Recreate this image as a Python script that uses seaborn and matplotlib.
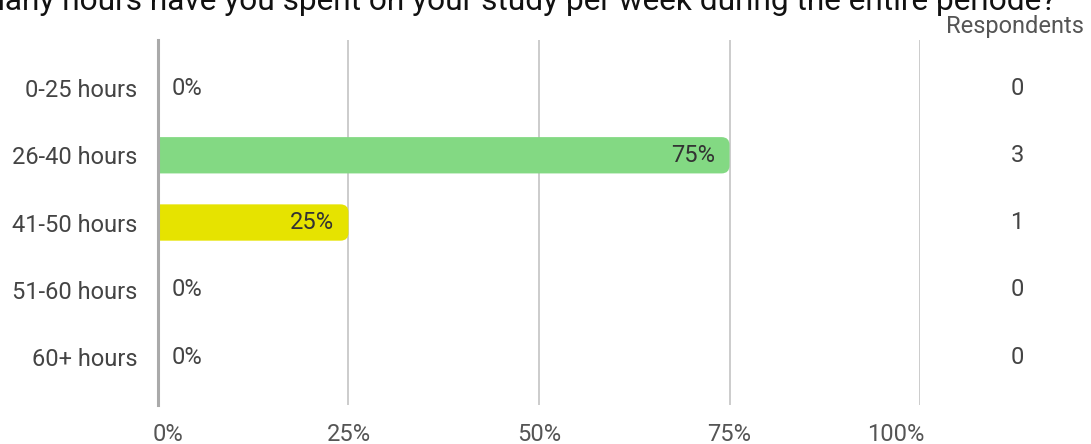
import matplotlib
matplotlib.use("Agg")
import matplotlib.pyplot as plt
from matplotlib.patches import FancyBboxPatch
from matplotlib.transforms import ScaledTranslation
import pandas as pd
import seaborn as sns

# Datos de la encuesta
categories = ["0-25 hours", "26-40 hours", "41-50 hours", "51-60 hours", "60+ hours"]
percentages = [0, 75, 25, 0, 0]
respondents = [0, 3, 1, 0, 0]
bar_colors = ["#cccccc", "#83d983", "#e6e300", "#cccccc", "#cccccc"]
x_ticks = [0, 25, 50, 75, 100]
x_tick_labels = ["0%", "25%", "50%", "75%", "100%"]
title_text = "How many hours have you spent on your study per week during the entire periode?"

sns.set_theme(style="white")
plt.rcParams["font.family"] = ["Roboto", "DejaVu Sans"]

df = pd.DataFrame({"category": categories, "pct": percentages, "n": respondents})

fig = plt.figure(figsize=(10.91, 4.44), dpi=100)
ax = fig.add_axes([0.1448, 0.0878, 0.6985, 0.8221])

sns.barplot(data=df, x="pct", y="category", hue="category", palette=bar_colors,
            legend=False, width=0.54, saturation=1, ax=ax, orient="h")

ax.set_xlim(0, 100)
ax.set_ylim(len(categories) - 0.286, -0.714)

# Barras con esquinas redondeadas (se reemplazan los rectangulos de seaborn)
px_x = ax.get_window_extent().width / 100.0
px_y = ax.get_window_extent().height / (len(categories) + 0.428)
aspect = px_x / px_y
for patch in list(ax.patches):
    x0, y0 = patch.get_x(), patch.get_y()
    w, h = patch.get_width(), patch.get_height()
    patch.set_visible(False)
    if w <= 0:
        continue
    r = 8.0 / px_x
    rounded = FancyBboxPatch((x0 - 3, y0), w + 3, h,
                             boxstyle=f"round,pad=0,rounding_size={r}",
                             mutation_aspect=aspect,
                             facecolor=patch.get_facecolor(), edgecolor="none",
                             zorder=2)
    ax.add_patch(rounded)

# Etiquetas de porcentaje
for i, pct in enumerate(percentages):
    if pct > 0:
        ax.text(pct - 14 / px_x, i, f"{pct}%", ha="right", va="center",
                fontsize=17, color="#333333", zorder=3)
    else:
        ax.text(14 / px_x, i, f"{pct}%", ha="left", va="center",
                fontsize=17, color="#444444", zorder=3)

# Columna de respondentes
for i, n in enumerate(respondents):
    y_fig = ax.transData.transform((0, i))[1] / fig.bbox.height
    fig.text(1017 / 1091, y_fig, str(n), ha="center", va="center",
             fontsize=17, color="#444444")
fig.text(1084 / 1091, 1 - 27 / 444, "Respondents", ha="right", va="center",
         fontsize=17, color="#555555")

# Titulo (recortado en el borde superior como en la original)
fig.text(1056 / 1091, 1 - 10 / 444, title_text, ha="right", va="baseline",
         fontsize=22.8, color="#111111")

# Ejes y rejilla
ax.set_xticks(x_ticks)
ax.set_xticklabels(x_tick_labels, fontsize=17, color="#555555")
ax.tick_params(axis="x", length=0, pad=13)
ax.tick_params(axis="y", length=0, pad=15, labelsize=17, labelcolor="#444444")
labels = ax.get_xticklabels()
labels[0].set_ha("left")
labels[0].set_transform(labels[0].get_transform() + ScaledTranslation(-5 / 100, 0, fig.dpi_scale_trans))
labels[-1].set_ha("right")
labels[-1].set_transform(labels[-1].get_transform() + ScaledTranslation(4 / 100, 0, fig.dpi_scale_trans))
ax.set_xlabel("")
ax.set_ylabel("")
for xv in x_ticks[1:]:
    ax.axvline(xv, color="#c4c4c4", linewidth=1.2, zorder=1)
for side in ["top", "right", "bottom"]:
    ax.spines[side].set_visible(False)
ax.spines["left"].set_color("#aaaaaa")
ax.spines["left"].set_linewidth(2.2)
ax.spines["left"].set_zorder(4)

fig.savefig("out.png", dpi=100)
plt.close(fig)
